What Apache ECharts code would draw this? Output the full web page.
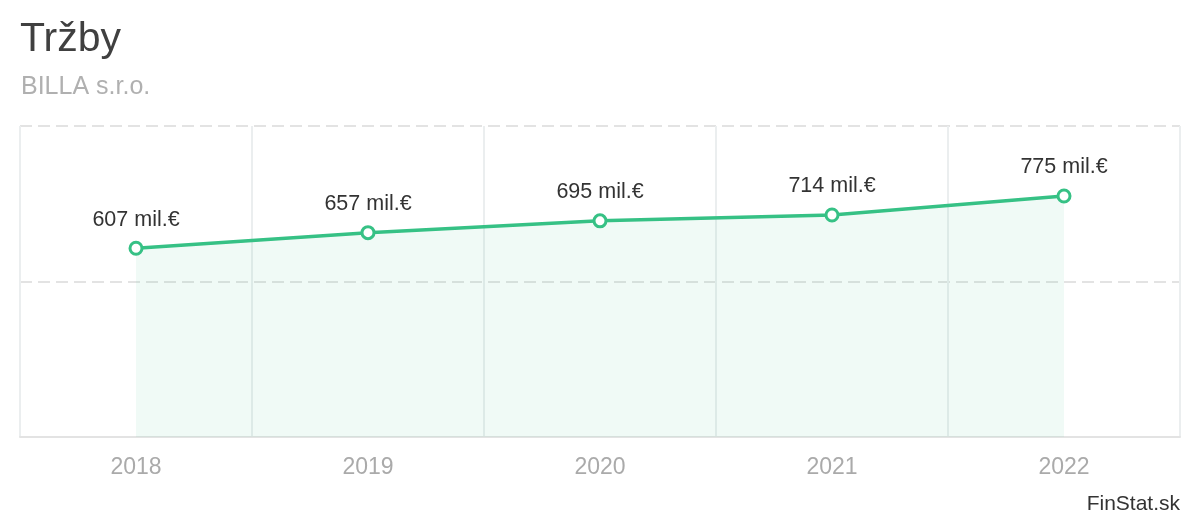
<!DOCTYPE html>
<html>
<head>
<meta charset="utf-8">
<script src="https://cdn.jsdelivr.net/npm/echarts@6/dist/echarts.min.js"></script>
<style>
html,body{margin:0;padding:0;background:#fff;}
#chart{width:1200px;height:520px;}
</style>
</head>
<body>
<div id="chart"></div>
<script>
const titleText = "Tržby";
const subtitleText = "BILLA s.r.o.";
const sourceText = "FinStat.sk";
const years = ["2018", "2019", "2020", "2021", "2022"];
const revenue = [607, 657, 695, 714, 775];
const unitSuffix = " mil.€";
const yTicks = [0, 500, 1000];

const FONT = "'Liberation Sans', Arial, sans-serif";
const chart = echarts.init(document.getElementById('chart'), null, {renderer: 'canvas'});
chart.setOption({
  animation: false,
  title: [
    {text: titleText, left: 20, top: 19, padding: 0,
     textStyle: {fontFamily: FONT, fontSize: 41, fontWeight: 'normal', color: '#404040'}},
    {text: subtitleText, left: 21, top: 75, padding: 0,
     textStyle: {fontFamily: FONT, fontSize: 25, fontWeight: 'normal', color: '#b0b0b0'}}
  ],
  graphic: [{
    type: 'text', right: 20, bottom: 5,
    style: {text: sourceText, fontFamily: FONT, fontSize: 21, fill: '#333'}
  }],
  grid: {left: 20, right: 20, top: 126, bottom: 83, containLabel: false},
  xAxis: {
    type: 'category', data: years, boundaryGap: true,
    axisLine: {show: true, lineStyle: {color: '#e3e3e3', width: 2}},
    axisTick: {show: false},
    axisLabel: {fontFamily: FONT, fontSize: 23, color: '#aaaaaa', margin: 19},
    splitLine: {show: true, lineStyle: {color: '#ebeeef', width: 2}}
  },
  yAxis: {
    type: 'value', min: yTicks[0], max: yTicks[yTicks.length - 1], interval: yTicks[1] - yTicks[0],
    axisLine: {show: false}, axisTick: {show: false}, axisLabel: {show: false},
    splitLine: {show: true, lineStyle: {color: '#e3e3e3', width: 2, type: [12, 6]}}
  },
  series: [{
    type: 'line', data: revenue,
    symbol: 'circle', symbolSize: 12,
    lineStyle: {color: '#36c185', width: 3.5},
    itemStyle: {color: '#fff', borderColor: '#36c185', borderWidth: 3},
    areaStyle: {color: 'rgba(54,193,133,0.075)', opacity: 1},
    label: {
      show: true, position: 'top', distance: 10,
      fontFamily: FONT, fontSize: 21.5, color: '#333',
      formatter: p => p.value + unitSuffix
    },
    z: 3
  }]
});
</script>
</body>
</html>
